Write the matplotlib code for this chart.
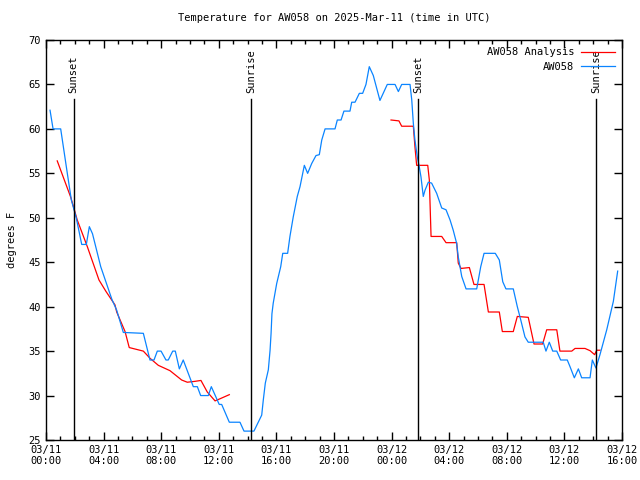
import numpy as np
import pandas as pd
import matplotlib
matplotlib.use("Agg")
import matplotlib.pyplot as plt
import matplotlib.dates as mdates

start = pd.Timestamp("2025-03-11 00:00")

# observed temperature (hours after start, degrees F)
obs_hours = [0.28, 0.49, 1.02, 1.48, 1.76, 2.10, 2.48, 2.80, 3.01, 3.23, 3.80, 4.58, 4.91, 5.37,
             6.76, 7.22, 7.50, 7.73, 7.99, 8.33, 8.49, 8.80, 8.98, 9.26, 9.53, 10.23, 10.51,
             10.74, 11.27, 11.48, 12.03, 12.20, 12.73, 13.47, 13.75, 14.44, 14.98, 15.09, 15.23,
             15.44, 15.56, 15.63, 15.69, 15.78, 16.02, 16.30, 16.44, 16.78, 16.94, 17.17, 17.45,
             17.64, 17.94, 18.17, 18.45, 18.75, 18.98, 19.15, 19.38, 20.07, 20.23, 20.49, 20.69,
             21.11, 21.23, 21.46, 21.76, 21.99, 22.22, 22.45, 22.73, 23.19, 23.70, 24.24, 24.47,
             24.70, 25.28, 25.40, 25.51, 25.62, 25.78, 25.92, 26.04, 26.20, 26.32, 26.55, 26.78,
             27.13, 27.48, 27.78, 28.06, 28.28, 28.52, 28.63, 28.87, 29.17, 29.91, 30.19, 30.42,
             31.20, 31.48, 31.72, 31.94, 32.45, 32.73, 32.97, 33.26, 33.49, 34.53, 34.72, 34.95,
             35.19, 35.47, 35.74, 36.20, 36.39, 36.69, 36.97, 37.20, 37.78, 37.94, 38.19, 38.47,
             38.94, 39.40, 39.70]
obs_temp = [62.1, 60, 60, 55, 52, 50, 47, 47, 49, 48.2, 44.5, 40.8, 39.6, 37.1,
            37, 34, 34, 35, 35, 34, 34, 35, 35, 33, 34, 31, 31,
            30, 30, 31, 29, 29, 27, 27, 26, 26, 27.8, 29.5, 31.4,
            32.9, 35.1, 37, 39.2, 40.4, 42.6, 44.5, 46, 46, 47.9, 50.1, 52.4,
            53.5, 55.9, 55, 56.1, 57, 57.1, 58.75, 60, 60, 61, 61, 62,
            62, 63, 63, 64, 64, 65, 67, 66, 63.2, 65, 65, 64.2,
            65, 65, 63.25, 60.6, 58.75, 56.9, 55.75, 54.6, 52.4, 53.1, 54, 53.9,
            52.75, 51.1, 50.9, 49.75, 48.6, 47.1, 45.6, 43.4, 42, 42, 44.5, 46,
            46, 45.25, 42.8, 42, 42, 40, 38.5, 36.6, 36, 36, 35, 36,
            35, 35, 34, 34, 33.25, 32, 33, 32, 32, 34, 33.1, 34.6,
            37.4, 40.6, 44]

# analysis temperature, two runs separated by a gap (NaN)
ana_hours = [0.78, 1.72, 2.17, 2.87, 3.68, 4.17, 4.79, 4.91, 5.49, 5.78, 6.76, 7.22, 7.80,
             8.61, 9.42, 9.81, 10.35, 10.76, 11.20, 11.74, 12.03, 12.73, 18.0,
             23.96, 24.51, 24.70, 25.51, 25.62, 25.74, 26.51, 26.62, 26.74, 27.48, 27.78,
             28.52, 28.63, 28.82, 29.40, 29.72, 30.42, 30.72, 31.48, 31.69, 32.45, 32.73,
             33.49, 33.89, 34.49, 34.77, 35.47, 35.69, 36.51, 36.74, 37.43, 37.78, 38.10,
             38.24, 38.47]
ana_temp = [56.4, 52.3, 49.75, 46.75, 43, 41.7, 40.2, 39.4, 37.2, 35.4, 35, 34.2, 33.4,
            32.8, 31.75, 31.5, 31.6, 31.7, 30.4, 29.4, 29.6, 30.1, np.nan,
            61, 60.9, 60.3, 60.3, 58, 55.9, 55.9, 54.25, 47.9, 47.9, 47.2,
            47.2, 44.9, 44.3, 44.4, 42.5, 42.5, 39.4, 39.4, 37.2, 37.2, 38.9,
            38.8, 35.8, 35.8, 37.4, 37.4, 35, 35, 35.3, 35.3, 35.05, 34.6,
            35.1, 35.1]

sun_times = ["2025-03-11 01:55", "2025-03-11 14:14", "2025-03-12 01:50", "2025-03-12 14:12"]
sun_labels = ["Sunset", "Sunrise", "Sunset", "Sunrise"]

obs_t = start + pd.to_timedelta(obs_hours, unit="h")
ana_t = start + pd.to_timedelta(ana_hours, unit="h")

plt.rcParams['font.family'] = ['DejaVu Sans Mono']
plt.rcParams['font.size'] = 7.5

fig = plt.figure(figsize=(6.4, 4.8), dpi=100)
ax = fig.add_axes([46/640, 40/480, 576/640, 400/480])

ax.plot(ana_t, ana_temp, color='#ff0000', lw=0.9, label='AW058 Analysis')
ax.plot(obs_t, obs_temp, color='#0a84ff', lw=0.9, label='AW058')

ax.set_ylim(25, 70)
ax.set_xlim(start, pd.Timestamp("2025-03-12 16:00"))

# sunrise / sunset markers
for st, lab in zip(sun_times, sun_labels):
    t = pd.Timestamp(st)
    ax.axvline(t, ymin=0, ymax=(440-99)/400, color='black', lw=1.0)
    ax.text(t, 64.0, lab, rotation=90, ha='center', va='bottom')

ax.xaxis.set_major_locator(mdates.HourLocator(byhour=[0, 4, 8, 12, 16, 20]))
ax.xaxis.set_minor_locator(mdates.HourLocator())
ax.xaxis.set_major_formatter(mdates.DateFormatter('%m/%d\n%H:%M'))
ax.set_yticks(np.arange(25, 71, 5))

ax.tick_params(which='both', direction='in', top=True, right=True)
ax.tick_params(which='major', length=6, width=1)
ax.tick_params(which='minor', length=3, width=1)
for s in ax.spines.values():
    s.set_linewidth(1)

ax.set_ylabel('degrees F')
ax.yaxis.set_label_coords(-0.05, 0.5)
ax.set_title('Temperature for AW058 on 2025-Mar-11 (time in UTC)', fontsize=7.5, pad=14)

leg = ax.legend(loc='upper right', frameon=False, markerfirst=False,
                handlelength=3.2, borderaxespad=0.3, labelspacing=0.45, handletextpad=0.7)

fig.savefig('out.png', dpi=100)
